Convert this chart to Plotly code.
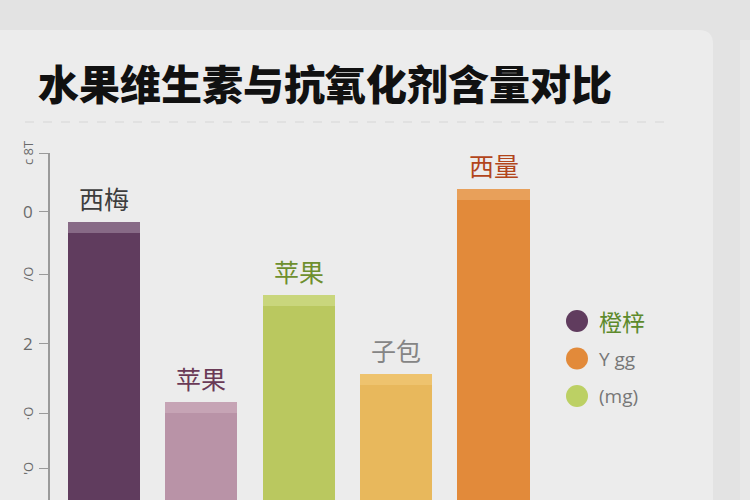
import plotly.graph_objects as go

# 数据
BAR_LABELS = ["西梅", "苹果", "苹果", "子包", "西量"]
BAR_VALUES = [77, 25, 56, 33, 86.5]
CAP_HEIGHT = 3.2
BAR_COLORS = ["#603c5e", "#b993a7", "#bac85f", "#e8b85c", "#e28a3a"]
CAP_COLORS = ["#876a86", "#c6a4b5", "#c9d67c", "#eec36e", "#e8a05a"]
LABEL_COLORS = ["#3d3d3d", "#6a3a56", "#6e8f2e", "#858585", "#b2451b"]

TICK_VALUES = [100, 83, 65, 45, 25, 9]
TICK_TEXT = ["c 8T", "0", "/O", "2", "·O", "'O"]
TICK_ROTATED = [True, False, True, False, True, True]

LEGEND_NAMES = ["橙梓", "Y gg", "(mg)"]
LEGEND_COLORS = ["#603c5e", "#e28a3a", "#bcd064"]
LEGEND_TEXT_COLORS = ["#5d8a2b", "#777777", "#777777"]

FONT = "Noto Sans CJK SC"

W_FIG, H_FIG = 750, 500
M_L, M_R, M_T, M_B = 50, 3, 153, 0
PW = W_FIG - M_L - M_R
PH = H_FIG - M_T - M_B


def px_x(p):
    return (p - M_L) / PW


def px_y(p):
    return (H_FIG - M_B - p) / PH


x_idx = list(range(len(BAR_VALUES)))

fig = go.Figure()
fig.add_trace(go.Bar(
    x=x_idx, y=BAR_VALUES, marker_color=BAR_COLORS, marker_line_width=0,
    width=0.74, hoverinfo="skip", showlegend=False,
))
fig.add_trace(go.Bar(
    x=x_idx, y=[CAP_HEIGHT] * len(BAR_VALUES), base=BAR_VALUES,
    marker_color=CAP_COLORS, marker_line_width=0, width=0.74,
    hoverinfo="skip", showlegend=False,
))

annotations = []
for i, (lab, v, c) in enumerate(zip(BAR_LABELS, BAR_VALUES, LABEL_COLORS)):
    annotations.append(dict(
        x=i, y=v + CAP_HEIGHT, text=lab, showarrow=False, yanchor="bottom",
        yshift=4, font=dict(family=FONT, size=25, color=c),
    ))

for tv, tt, rot in zip(TICK_VALUES, TICK_TEXT, TICK_ROTATED):
    annotations.append(dict(
        x=px_x(28), xref="paper", y=tv, yref="y", text=tt, showarrow=False,
        xanchor="center", yanchor="middle",
        textangle=-90 if rot else 0,
        font=dict(family="Open Sans", size=13 if rot else 17, color="#6a6a6a"),
    ))

shapes = [
    # 卡片背景
    dict(type="path", xref="paper", yref="paper", layer="below",
         path=(f"M {px_x(-20)} {px_y(520)} L {px_x(-20)} {px_y(44)} "
               f"Q {px_x(-20)} {px_y(30)} {px_x(-6)} {px_y(30)} "
               f"L {px_x(699)} {px_y(30)} Q {px_x(713)} {px_y(30)} {px_x(713)} {px_y(44)} "
               f"L {px_x(713)} {px_y(520)} Z"),
         fillcolor="#ececec", line_width=0),
    dict(type="rect", xref="paper", yref="paper", layer="below",
         x0=px_x(740), x1=px_x(770), y0=px_y(520), y1=px_y(40),
         fillcolor="#e8e8e8", line_width=0),
    # 分隔虚线
    dict(type="line", xref="paper", yref="paper",
         x0=px_x(25), x1=px_x(672), y0=px_y(122), y1=px_y(122),
         line=dict(color="#d6d6d6", width=1, dash="dash")),
]

for k, (name, col, tcol) in enumerate(zip(LEGEND_NAMES, LEGEND_COLORS, LEGEND_TEXT_COLORS)):
    yc = 321 + 37.5 * k
    shapes.append(dict(
        type="circle", xref="paper", yref="paper", xsizemode="pixel", ysizemode="pixel",
        xanchor=px_x(577), yanchor=px_y(yc), x0=-11, x1=11, y0=-11, y1=11,
        fillcolor=col, line_width=0,
    ))
    annotations.append(dict(
        x=px_x(597), xref="paper", y=px_y(yc), yref="paper", text=name,
        showarrow=False, xanchor="left", yanchor="middle",
        font=dict(family=FONT if k == 0 else "Open Sans", size=23 if k == 0 else 19, color=tcol),
    ))

annotations.append(dict(
    x=px_x(36), xref="paper", y=px_y(82), yref="paper", text="水果维生素与抗氧化剂含量对比",
    showarrow=False, xanchor="left", yanchor="middle",
    font=dict(family=FONT, size=41, color="#111111", weight=900),
))

fig.update_layout(
    width=W_FIG, height=H_FIG,
    margin=dict(l=M_L, r=M_R, t=M_T, b=M_B),
    paper_bgcolor="#e3e3e3", plot_bgcolor="rgba(0,0,0,0)",
    barmode="overlay", bargap=0,
    showlegend=False,
    shapes=shapes, annotations=annotations,
    xaxis=dict(visible=False, range=[-0.55, 6.6]),
    yaxis=dict(range=[0, 100], showgrid=False, zeroline=False,
               showline=True, linecolor="#9a9a9a", linewidth=1.5,
               ticks="outside", ticklen=9, tickcolor="#9a9a9a", tickwidth=1.2,
               tickvals=TICK_VALUES, showticklabels=False),
)

fig.write_html("out.html", config={"displayModeBar": False},
               post_script="document.body.style.margin='0';")
